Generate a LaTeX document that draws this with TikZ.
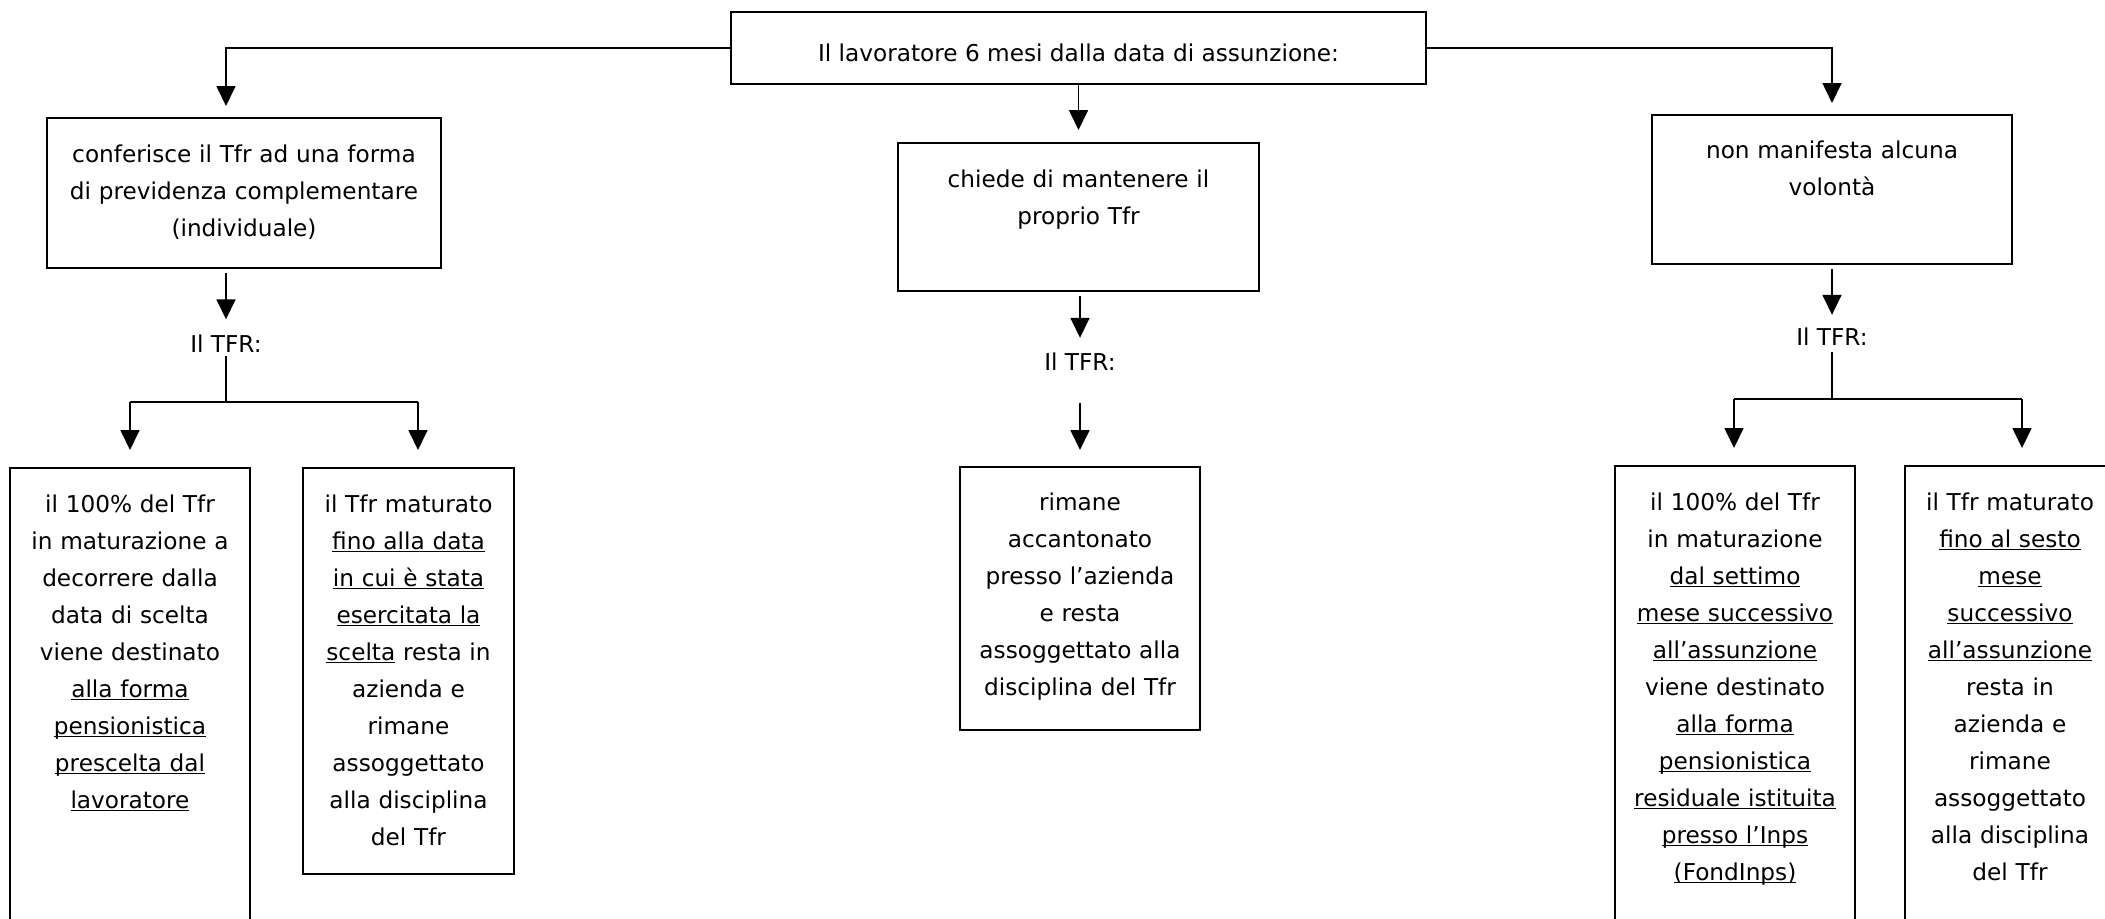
\documentclass[tikz,border=0pt]{standalone}
\usepackage{fontspec}
\setmainfont{DejaVu Sans}
\usetikzlibrary{arrows.meta}
\newcommand{\sott}[1]{\underline{\raisebox{0pt}[\height][0pt]{#1}}}

\begin{document}
\begin{tikzpicture}[line cap=butt,line join=miter,>={Triangle[length=10pt,width=9.5pt]},x=0.5pt,y=-0.5pt,
  box/.style={draw,line width=1pt,inner sep=0pt,anchor=north},
  txt/.style={inner sep=0pt,anchor=north,align=center,font=\fontsize{11.6}{18.5}\selectfont},
  lbl/.style={inner sep=0pt,font=\fontsize{11.6}{18.5}\selectfont},
  conn/.style={line width=0.85pt}]
\useasboundingbox (0,0) rectangle (2105,918);
\fill[white] (0,0) rectangle (2105,918);
\clip (0,0) rectangle (2105,918);

% boxes
\node[box,minimum width=347.5pt,minimum height=36pt] (top) at (1078.5,11) {};
\node[box,minimum width=197pt,minimum height=75pt] (l1) at (244,117) {};
\node[box,minimum width=180.5pt,minimum height=74pt] (c1) at (1078.5,142) {};
\node[box,minimum width=180pt,minimum height=74.5pt] (r1) at (1832,114) {};
\node[box,minimum width=120pt,minimum height=246.5pt] (l2a) at (130,467) {};
\node[box,minimum width=105.5pt,minimum height=203pt] (l2b) at (408.5,467) {};
\node[box,minimum width=120pt,minimum height=131.5pt] (c2) at (1080,466) {};
\node[box,minimum width=120pt,minimum height=247.5pt] (r2a) at (1735,465) {};
\node[box,minimum width=105pt,minimum height=247.5pt] (r2b) at (2010,465) {};

% texts
\node[lbl] (topt) at (1078.5,52.5) {Il lavoratore 6 mesi dalla data di assunzione:};
\node[txt,text width=197pt] (l1t) at ([yshift=-13.5pt]l1.north) {conferisce il Tfr ad una forma\\di previdenza complementare\\(individuale)};
\node[txt,text width=180.5pt] (c1t) at ([yshift=-13.5pt]c1.north) {chiede di mantenere il\\proprio Tfr};
\node[txt,text width=180pt] (r1t) at ([yshift=-13pt]r1.north) {non manifesta alcuna\\volontà};
\node[lbl] (tfrL) at (226,343.5) {Il TFR:};
\node[lbl] (tfrC) at (1080,362) {Il TFR:};
\node[lbl] (tfrR) at (1832,337) {Il TFR:};
\node[txt,text width=120pt] (l2at) at ([yshift=-13.5pt]l2a.north) {il 100\% del Tfr\\in maturazione a\\decorrere dalla\\data di scelta\\viene destinato\\\sott{alla forma}\\\sott{pensionistica}\\\sott{prescelta dal}\\\sott{lavoratore}};
\node[txt,text width=105.5pt] (l2bt) at ([yshift=-13.5pt]l2b.north) {il Tfr maturato\\\sott{fino alla data}\\\sott{in cui è stata}\\\sott{esercitata la}\\\sott{scelta} resta in\\azienda e\\rimane\\assoggettato\\alla disciplina\\del Tfr};
\node[txt,text width=120pt] (c2t) at ([yshift=-13pt]c2.north) {rimane\\accantonato\\presso l’azienda\\e resta\\assoggettato alla\\disciplina del Tfr};
\node[txt,text width=120pt] (r2at) at ([yshift=-13.5pt]r2a.north) {il 100\% del Tfr\\in maturazione\\\sott{dal settimo}\\\sott{mese successivo}\\\sott{all’assunzione}\\viene destinato\\\sott{alla forma}\\\sott{pensionistica}\\\sott{residuale istituita}\\\sott{presso l’Inps}\\\sott{(FondInps)}};
\node[txt,text width=105pt] (r2bt) at ([yshift=-13.5pt]r2b.north) {il Tfr maturato\\\sott{fino al sesto}\\\sott{mese}\\\sott{successivo}\\\sott{all’assunzione}\\resta in\\azienda e\\rimane\\assoggettato\\alla disciplina\\del Tfr};

% forks
\coordinate (fL) at (226,402);
\coordinate (fLa) at (130,402);
\coordinate (fLb) at (418,402);
\coordinate (fR) at (1832,399);
\coordinate (fRa) at (1734,399);
\coordinate (fRb) at (2022,399);

% connectors
\draw[conn,->,shorten >=5.5pt] (top.west) -| (l1.north -| tfrL);
\draw[conn,->,shorten >=5.5pt] (top.east) -| (r1.north -| tfrR);
\draw[conn,->,shorten >=6pt] (top.south) -- (c1.north);
\draw[conn,->,shorten <=2pt,shorten >=7.5pt] (l1.south -| tfrL) -- (tfrL.north);
\draw[conn,->,shorten <=2pt,shorten >=7.5pt] (c1.south -| tfrC) -- (tfrC.north);
\draw[conn,->,shorten <=2pt,shorten >=6.5pt] (r1.south -| tfrR) -- (tfrR.north);
\draw[conn,->,shorten <=15.8pt,shorten >=8pt] (tfrC.south) -- (tfrC.south |- c2.north);
\draw[conn,shorten <=1.8pt] (tfrL.south) -- (fL);
\draw[conn] (fLa) -- (fLb);
\draw[conn,->,shorten >=8.5pt] (fLa) -- (fLa |- l2a.north);
\draw[conn,->,shorten >=8.5pt] (fLb) -- (fLb |- l2b.north);
\draw[conn,shorten <=3pt] (tfrR.south) -- (fR);
\draw[conn] (fRa) -- (fRb);
\draw[conn,->,shorten >=8.5pt] (fRa) -- (fRa |- r2a.north);
\draw[conn,->,shorten >=8.5pt] (fRb) -- (fRb |- r2b.north);
\end{tikzpicture}
\end{document}
